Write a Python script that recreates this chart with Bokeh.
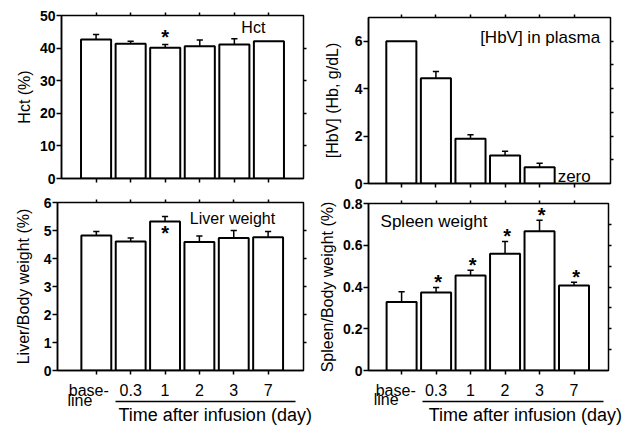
from bokeh.plotting import figure
from bokeh.layouts import row, column
from bokeh.models import FixedTicker, LinearAxis, Range1d
from bokeh.core.properties import value
from bokeh.embed import file_html
from bokeh.resources import INLINE

# ---------------- data ----------------
categories = ["base-line", "0.3", "1", "2", "3", "7"]
x_labels = ["", "0.3", "1", "2", "3", "7"]
x_title = "Time after infusion (day)"
idx = list(range(len(categories)))

hct = [42.6, 41.3, 40.1, 40.6, 41.1, 42.1]
hct_err = [1.6, 0.8, 1.0, 1.9, 1.8, 0.0]
hct_star = [2]

hbv = [6.0, 4.44, 1.89, 1.18, 0.68]
hbv_err = [0.0, 0.28, 0.17, 0.18, 0.17]

liver = [4.82, 4.61, 5.32, 4.59, 4.73, 4.76]
liver_err = [0.14, 0.12, 0.18, 0.21, 0.27, 0.20]
liver_star = [2]

spleen = [0.328, 0.374, 0.455, 0.559, 0.667, 0.407]
spleen_err = [0.049, 0.024, 0.025, 0.059, 0.053, 0.016]
spleen_star = [1, 2, 3, 4, 5]

FONT = "Liberation Sans"
BAR_W = 0.87
CAP = 0.09


def tick_axis(minor):
    return LinearAxis(ticker=FixedTicker(ticks=[], minor_ticks=minor),
                      major_tick_line_color=None, minor_tick_out=3, minor_tick_in=0,
                      minor_tick_line_width=1.5, axis_line_color=None,
                      major_label_standoff=0)


def make_fig(fw, fh, xr, yr, yticks, ylabels, ylabel, right_ticks, borders, lab_standoff):
    l, r, t, b = borders
    p = figure(frame_width=fw, frame_height=fh, x_range=Range1d(*xr), y_range=Range1d(*yr),
               output_backend="svg", toolbar_location=None, frame_align=False,
               min_border_left=l, min_border_right=r, min_border_top=t, min_border_bottom=b)
    p.grid.visible = False
    p.outline_line_color = "black"
    p.outline_line_width = 1.5
    p.background_fill_color = "white"
    p.border_fill_color = "white"
    ya = p.left[0]
    ya.ticker = FixedTicker(ticks=yticks)
    ya.major_label_overrides = {tv: lab for tv, lab in zip(yticks, ylabels)}
    ya.major_tick_out = 5
    ya.major_tick_in = 0
    ya.minor_tick_line_color = None
    ya.axis_line_width = 1.5
    ya.major_tick_line_width = 1.5
    ya.major_label_text_font = FONT
    ya.major_label_text_font_size = "14px"
    ya.major_label_text_font_style = "bold"
    ya.major_label_text_color = "black"
    ya.major_label_standoff = 1
    ya.axis_label = ylabel
    ya.axis_label_text_font = FONT
    ya.axis_label_text_font_size = "16px"
    ya.axis_label_text_font_style = "normal"
    ya.axis_label_text_color = "black"
    ya.axis_label_standoff = lab_standoff
    p.add_layout(tick_axis(right_ticks), "right")
    p.add_layout(tick_axis(idx), "above")
    return p


def draw_bars(p, vals, errs):
    xs = idx[:len(vals)]
    p.vbar(x=xs, top=vals, bottom=0, width=BAR_W, fill_color="white",
           line_color="black", line_width=2)
    ex = [x for x, e in zip(xs, errs) if e > 0]
    ev = [v for v, e in zip(vals, errs) if e > 0]
    et = [v + e for v, e in zip(vals, errs) if e > 0]
    p.segment(x0=ex, y0=ev, x1=ex, y1=et, line_color="black", line_width=1.5)
    p.segment(x0=[x - CAP for x in ex], y0=et, x1=[x + CAP for x in ex], y1=et,
              line_color="black", line_width=1.5)


def draw_stars(p, vals, errs, stars, y_off, x_off=0, inside=False):
    xs = [idx[i] for i in stars]
    ys = [vals[i] if inside else vals[i] + errs[i] for i in stars]
    p.text(x=xs, y=ys, text=["*"] * len(xs), text_font=value(FONT), text_font_size="20px",
           text_font_style="bold", text_align="center", text_baseline="alphabetic",
           x_offset=x_off, y_offset=y_off, text_color="black", level="overlay")


def note(p, x, y, txt, size, align, baseline="alphabetic", y_off=-6):
    p.text(x=[x], y=[y], text=[txt], text_font=value(FONT), text_font_size=size,
           text_align=align, text_baseline=baseline, y_offset=y_off,
           text_color="black", level="overlay")


def top_xaxis(p):
    xa = p.below[0]
    xa.ticker = FixedTicker(ticks=[], minor_ticks=idx)
    xa.major_label_standoff = 0
    xa.major_tick_line_color = None
    xa.minor_tick_out = 4
    xa.minor_tick_in = 0
    xa.minor_tick_line_width = 1.5
    xa.axis_line_width = 1.5


def bottom_xaxis(p, bounds, base_x, line_x, line_y, title_x, title_y):
    xa = p.below[0]
    label_ticks = [base_x] + idx[1:]
    xa.ticker = FixedTicker(ticks=label_ticks, minor_ticks=idx)
    xa.major_label_overrides = {tv: lab for tv, lab in zip(label_ticks, ["base-"] + x_labels[1:])}
    xa.major_label_text_font = FONT
    xa.major_label_text_font_size = "16px"
    xa.major_label_text_color = "black"
    xa.major_label_standoff = 5
    xa.major_tick_line_color = None
    xa.minor_tick_out = 4
    xa.minor_tick_in = 0
    xa.minor_tick_line_width = 1.5
    xa.axis_line_width = 1.5
    ax2 = LinearAxis(ticker=FixedTicker(ticks=[]), bounds=bounds,
                     major_tick_line_color=None, minor_tick_line_color=None,
                     axis_line_width=1.5, major_label_standoff=0)
    p.add_layout(ax2, "below")
    note(p, line_x, line_y, "line", "16px", "left", "top", 0)
    note(p, title_x, title_y, x_title, "18px", "center")


# ---------------- Hct ----------------
p1 = make_fig(242, 163, (-1.0, 6.0), (0, 50), [0, 10, 20, 30, 40, 50],
              ["0", "10", "20", "30", "40", "50"], "Hct (%)", [10, 20, 30, 40],
              (61, 12, 15, 12), 4)
top_xaxis(p1)
draw_bars(p1, hct, hct_err)
draw_stars(p1, hct, hct_err, hct_star, -8)
note(p1, 4.55, 44.5, "Hct", "16px", "center")

# ---------------- HbV ----------------
p2 = make_fig(242, 166, (-0.95, 6.05), (0, 7), [0, 2, 4, 6], ["0", "2", "4", "6"],
              "[HbV] (Hb, g/dL)", [1, 2, 3, 4, 5, 6], (53, 20, 17, 7), 11)
top_xaxis(p2)
draw_bars(p2, hbv, hbv_err)
note(p2, 5.75, 5.9, "[HbV] in plasma", "17px", "right")
note(p2, 5.0, 0.05, "zero", "17px", "center")

# ---------------- Liver ----------------
p3 = make_fig(246, 168, (-1.13, 6.03), (0, 6), [0, 1, 2, 3, 4, 5, 6],
              ["0", "1", "2", "3", "4", "5", "6"], "Liver/Body weight (%)",
              [1, 2, 3, 4, 5], (57, 12, 12, 58), 9)
bottom_xaxis(p3, (0.55, 5.8), -0.22, -0.84, -0.75, 3.46, -1.8)
draw_bars(p3, liver, liver_err)
draw_stars(p3, liver, liver_err, liver_star, 11, inside=True)
note(p3, 2.72, 5.2, "Liver weight", "16px", "left")

# ---------------- Spleen ----------------
p4 = make_fig(240, 167, (-0.96, 6.0), (0, 0.8), [0, 0.2, 0.4, 0.6, 0.8],
              ["0", "0.2", "0.4", "0.6", "0.8"], "Spleen/Body weight (%)",
              [0.1, 0.2, 0.3, 0.4, 0.5, 0.6, 0.7], (53, 22, 13, 58), 4)
bottom_xaxis(p4, (0.6, 5.85), -0.17, -0.81, -0.10, 3.59, -0.24)
draw_bars(p4, spleen, spleen_err)
draw_stars(p4, spleen, spleen_err, spleen_star, -5, 2)
note(p4, -0.61, 0.686, "Spleen weight", "17px", "left")

layout = column(row(p1, p2), row(p3, p4))
open("out.html", "w").write(file_html(layout, INLINE))
